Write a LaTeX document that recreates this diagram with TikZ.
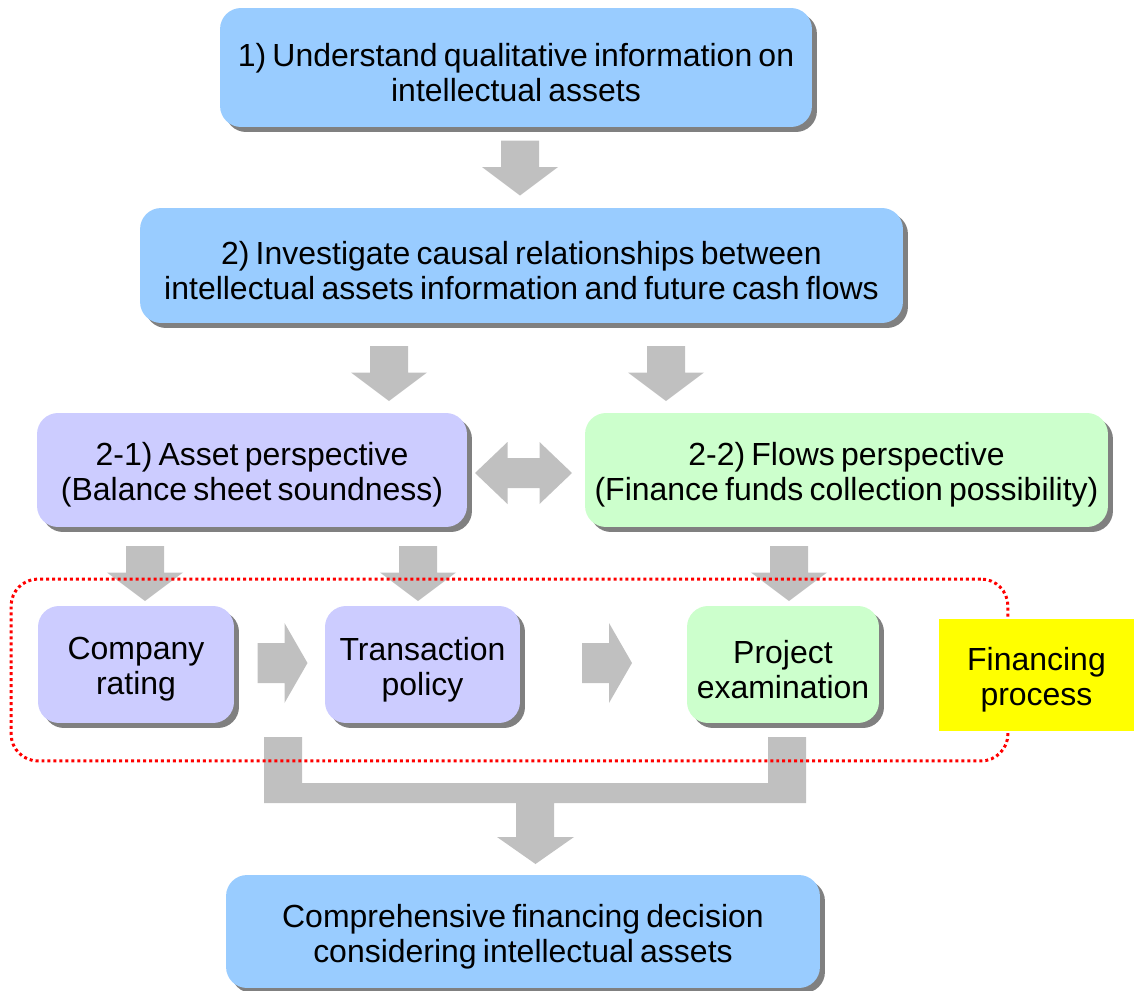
\documentclass[tikz,border=0pt]{standalone}
\usepackage{fontspec}
\setmainfont{Liberation Sans}[WordSpace=0.7]
\usetikzlibrary{shadows,calc}
\definecolor{boxblue}{HTML}{99CCFF}
\definecolor{boxlav}{HTML}{CCCCFF}
\definecolor{boxgreen}{HTML}{CCFFCC}
\definecolor{boxyellow}{HTML}{FFFF00}
\definecolor{arrowgray}{HTML}{C0C0C0}
\definecolor{framered}{HTML}{FF0000}
\begin{document}
\begin{tikzpicture}[x=0.02cm,y=-0.02cm,
  txt/.style={align=center, inner sep=0pt, font=\fontsize{18.2pt}{20pt}\selectfont},
  caption/.style={label={[txt, yshift=-0.1cm]center:{#1}}},
  box/.style={inner sep=0pt, rounded corners=0.42cm,
    drop shadow={shadow xshift=0.1cm, shadow yshift=-0.1cm, fill=black!50, opacity=1}},
  bluebox/.style={box, fill=boxblue},
  lavbox/.style={box, fill=boxlav},
  greenbox/.style={box, fill=boxgreen},
  downarr/.pic={\fill[arrowgray] (-19,-27.5) -- (19,-27.5) -- (19,-1) -- (38,-1) -- (0,27.5) -- (-38,-1) -- (-19,-1) -- cycle;},
  rightarr/.pic={\fill[arrowgray] (-25,-20) -- (2,-20) -- (2,-40) -- (25,0) -- (2,40) -- (2,20) -- (-25,20) -- cycle;},
  dblarr/.pic={\fill[arrowgray] (-48.5,0) -- (-16,-31) -- (-16,-15) -- (16,-15) -- (16,-31) -- (48.5,0) -- (16,31) -- (16,15) -- (-16,15) -- (-16,31) -- cycle;}
]
\useasboundingbox (0,0) rectangle (1134,991);

% block arrows between the stages
\pic at (520,168) {downarr};
\pic at (389,373.5) {downarr};
\pic at (666,373.5) {downarr};
\pic at (523.5,473) {dblarr};
\pic at (145,573.5) {downarr};
\pic at (418,573.5) {downarr};
\pic at (789,573.5) {downarr};
\pic at (282.5,663) {rightarr};
\pic at (607,663) {rightarr};

% merging bracket into the final decision
\fill[arrowgray] (264,737) -- (302,737) -- (302,783) -- (768,783) -- (768,737) -- (806,737)
  -- (806,803) -- (554,803) -- (554,837) -- (574,837) -- (535.5,864) -- (497,837)
  -- (516,837) -- (516,803) -- (264,803) -- cycle;

% dotted frame around the financing process
\node[draw=framered, line width=1.7pt, dash pattern=on 1.7pt off 1.7pt, rounded corners=0.54cm,
  minimum width=19.94cm, minimum height=3.64cm, inner sep=0pt] (frame) at (509.5,670) {};

% stage boxes
\node[bluebox, minimum width=11.84cm, minimum height=2.38cm,
  caption={1) Understand qualitative information on\\intellectual assets}] (s1) at (516,67.5) {};
\node[bluebox, minimum width=15.26cm, minimum height=2.30cm,
  caption={2) Investigate causal relationships between\\intellectual assets information and future cash flows}] (s2) at (521.5,265.5) {};
\node[lavbox, minimum width=8.6cm, minimum height=2.28cm,
  caption={2-1) Asset perspective\\(Balance sheet soundness)}] (s21) at (252,470) {};
\node[greenbox, minimum width=10.46cm, minimum height=2.28cm,
  caption={2-2) Flows perspective\\(Finance funds collection possibility)}] (s22) at (846.5,470) {};
\node[lavbox, minimum width=3.92cm, minimum height=2.34cm,
  caption={Company\\rating}] (rate) at (136,664.5) {};
\node[lavbox, minimum width=3.9cm, minimum height=2.34cm,
  caption={Transaction\\policy}] (policy) at (422.5,664.5) {};
\node[greenbox, minimum width=3.84cm, minimum height=2.34cm,
  caption={Project\\examination}] (proj) at (783,664.5) {};
\node[fill=boxyellow, inner sep=0pt, minimum width=3.9cm, minimum height=2.24cm,
  caption={Financing\\process}] (fin) at (1036.5,675) {};
\node[bluebox, minimum width=11.88cm, minimum height=2.26cm,
  caption={Comprehensive financing decision\\considering intellectual assets}] (final) at (523,931.5) {};
\end{tikzpicture}
\end{document}
